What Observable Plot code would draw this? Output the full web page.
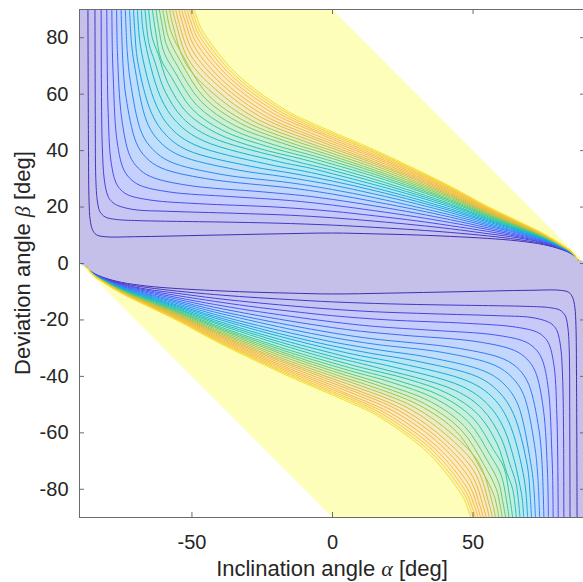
<!DOCTYPE html>
<html>
<head>
<meta charset="utf-8">
<script src="https://cdn.jsdelivr.net/npm/d3@7"></script>
<script src="https://cdn.jsdelivr.net/npm/@observablehq/plot@0.6"></script>
<style>
html, body { margin: 0; padding: 0; background: #fff; overflow: hidden; }
svg { max-width: none !important; }
</style>
</head>
<body>
<div id="chart"></div>
<script>
// ---------------- data ----------------
const axisRange = [-90, 90];
const xTicks = [-50, 0, 50];
const yTicks = [-80, -60, -40, -20, 0, 20, 40, 60, 80];

// upper family of contour lines (index 0 = innermost/blue, 28 = outermost/yellow)
// alpha where each line leaves the top edge (beta = 90)
const topAlpha = [-87.0,-84.5,-82.3,-80.3,-78.5,-76.8,-75.2,-73.7,-72.2,-70.8,-69.4,-68.0,-66.7,-65.4,-64.1,-62.8,-61.6,-60.4,-59.2,-58.0,-56.9,-55.8,-54.7,-53.7,-52.7,-51.8,-50.9,-50.1,-49.3];
// beta where each line crosses alpha = 0
const betaAtZero = [10.8,13.6,16.2,18.5,20.7,22.7,24.6,26.2,27.8,29.2,30.5,31.8,33.0,34.1,35.2,36.2,37.2,38.1,39.0,39.9,40.8,41.6,42.4,43.2,44.0,44.7,45.4,46.0,46.6];
// points [alpha, beta] along the bend of each line, between the top edge and alpha = 0
const leftPoints = [
  [[-86.8,40],[-86.6,22],[-86.2,15.5],[-85.4,12],[-84,10.2],[-81,9.5],[-70,9.5],[-45,10],[-20,10.5]],
  [[-84.4,56.3],[-84.2,30.2],[-83.7,22.5],[-82.9,18.7],[-82.0,17.4],[-80.7,16.4],[-76.9,15.6],[-69.2,15.2],[-40,14.7],[-20,14.3]],
  [[-82.2,61.9],[-81.9,41.8],[-81.2,29.9],[-79.9,23.9],[-78.5,21.9],[-76.5,20.6],[-70.6,19.1],[-58.6,18.5],[-35,17.8],[-15,17.1]],
  [[-80.1,67.5],[-79.8,53.5],[-78.9,37.0],[-77.1,28.8],[-75.2,26.0],[-72.5,24.2],[-64.2,22.4],[-47.7,21.2],[-20,20.0]],
  [[-78.3,75],[-78.0,66.2],[-76.8,44.6],[-74.5,33.8],[-72.1,30.2],[-68.5,27.7],[-57.7,25.3],[-36.1,23.7],[-15,22.3]],
  [[-76.5,74.7],[-75.0,51.5],[-72.1,38.2],[-69.1,33.8],[-64.7,30.8],[-51.5,27.7],[-25.0,25.4],[-10,24.0]],
  [[-74.5,70],[-73.4,58.6],[-69.8,42.8],[-66.3,37.5],[-61.0,33.9],[-45.2,30.1],[-13.6,26.6]],
  [[-73.0,75],[-71.9,64.5],[-67.9,46.3],[-63.8,40.3],[-57.8,36.1],[-39.7,31.6],[-15,28.6]],
  [[-71.5,78],[-70.5,70.6],[-66.0,50.1],[-61.4,43.1],[-54.6,38.4],[-34.0,33.2],[-17,30.7]],
  [[-70.3,82],[-69.3,71.6],[-64.3,53.1],[-59.2,45.5],[-51.7,40.2],[-28.9,34.4],[-14,31.9]],
  [[-68.2,76.4],[-62.7,56.1],[-57.2,47.7],[-48.9,42.0],[-24.1,35.4],[-10,32.7]],
  [[-67.2,81.4],[-61.2,59.0],[-55.2,49.9],[-46.2,43.6],[-19.2,36.1],[-8,33.8]],
  [[-65.3,78],[-63.1,71.2],[-59.8,61.5],[-53.4,51.7],[-43.7,45.0],[-14.7,36.6]],
  [[-64.1,80],[-62.0,74.2],[-58.5,63.8],[-51.7,53.4],[-41.3,46.2],[-26.9,41.0],[-10.4,36.9]],
  [[-62.9,82],[-61.0,72.4],[-57.3,66.0],[-50.0,54.8],[-39.0,47.1],[-23.6,41.6],[-6.0,36.9]],
  [[-61.9,84],[-60.0,75.0],[-56.1,67.9],[-48.4,56.2],[-36.8,48.0],[-20.6,42.0],[-8,38.5]],
  [[-60.5,84],[-59.1,77.6],[-55.1,69.9],[-46.9,57.6],[-34.8,48.9],[-17.7,42.6],[-7,39.3]],
  [[-59.7,86],[-58.3,80.0],[-54.1,71.7],[-45.6,58.8],[-32.8,49.7],[-15.0,42.8],[-6,40.0]],
  [[-57.5,82.3],[-53.1,73.4],[-44.2,59.7],[-30.8,50.2],[-12.2,43.0],[-5,40.7]],
  [[-56.8,84.6],[-52.1,70.7],[-42.9,60.7],[-28.9,50.8],[-9.4,43.1]],
  [[-55.9,86],[-51.3,72.4],[-41.7,61.8],[-27.2,51.4],[-6.8,43.2]],
  [[-54.8,86],[-50.5,73.9],[-40.5,62.8],[-25.5,51.9],[-4.4,43.3]],
  [[-53.6,86],[-49.8,75.4],[-39.4,63.5],[-23.8,52.2],[-8.2,45.5]],
  [[-52.5,86],[-49.1,76.8],[-38.4,64.2],[-22.2,52.6],[-6.1,45.6]],
  [[-51.5,86],[-48.5,78.3],[-37.4,65.1],[-20.7,53.0],[-4.0,45.7]],
  [[-50.5,86],[-47.9,79.6],[-36.5,65.7],[-19.3,53.3],[-8,48.0]],
  [[-49.5,86],[-47.4,80.8],[-35.7,66.3],[-18.0,53.5],[-8,48.7]],
  [[-48.7,86],[-46.9,81.8],[-34.9,66.8],[-16.8,53.7],[-8,49.4]],
  [[-47.8,86],[-46.5,82.9],[-34.2,67.3],[-15.7,53.8],[-8,50.1]]
];
// beta of each line at these alpha stations on the right-hand side
const rightStations = [15, 30, 42, 55, 66, 75, 81, 85];
const rightBeta = [
  [10.5,10.1,9.6,8.9,8.0,6.7,5.1,3.4],
  [12.8,11.9,11.0,9.8,8.5,7.0,5.3,3.5],
  [15.0,13.6,12.3,10.6,9.1,7.3,5.4,3.5],
  [16.9,15.1,13.4,11.4,9.5,7.5,5.5,3.6],
  [18.7,16.5,14.5,12.1,9.9,7.8,5.6,3.6],
  [20.4,17.8,15.5,12.7,10.3,8.0,5.7,3.7],
  [21.9,19.0,16.4,13.3,10.7,8.2,5.8,3.7],
  [23.3,20.0,17.2,13.8,11.0,8.4,5.9,3.7],
  [24.6,21.1,18.0,14.3,11.3,8.6,6.0,3.8],
  [25.8,22.0,18.7,14.8,11.6,8.7,6.1,3.8],
  [26.8,22.8,19.3,15.2,11.9,8.9,6.2,3.8],
  [27.9,23.7,20.0,15.6,12.1,9.0,6.2,3.9],
  [28.9,24.4,20.6,16.0,12.3,9.1,6.3,3.9],
  [29.8,25.1,21.1,16.3,12.6,9.2,6.3,3.9],
  [30.8,25.9,21.7,16.7,12.8,9.4,6.4,4.0],
  [31.6,26.5,22.2,17.0,13.0,9.5,6.5,4.0],
  [32.4,27.1,22.6,17.3,13.2,9.6,6.5,4.0],
  [33.1,27.7,23.1,17.6,13.3,9.7,6.5,4.0],
  [33.9,28.3,23.6,17.9,13.5,9.8,6.6,4.0],
  [34.7,28.9,24.0,18.2,13.7,9.9,6.6,4.1],
  [35.4,29.5,24.4,18.5,13.9,10.0,6.7,4.1],
  [36.0,30.0,24.8,18.7,14.0,10.1,6.7,4.1],
  [36.7,30.5,25.2,19.0,14.2,10.1,6.8,4.1],
  [37.4,31.0,25.6,19.2,14.3,10.2,6.8,4.1],
  [38.0,31.5,26.0,19.5,14.5,10.3,6.9,4.1],
  [38.6,32.0,26.4,19.7,14.6,10.4,6.9,4.2],
  [39.2,32.4,26.7,19.9,14.8,10.5,6.9,4.2],
  [39.7,32.8,27.0,20.1,14.9,10.5,7.0,4.2],
  [40.2,33.2,27.3,20.3,15.0,10.6,7.0,4.2]
];
// point where all upper lines meet (lower lines meet at its mirror image)
const convergence = [87.3, 1.3];
// corners of the defined region |alpha + beta| <= 90
const domainCorners = [[-90, 90], [0, 90], [90, 0], [90, -90], [0, -90], [-90, 0]];

// ---------------- colours (parula-like) ----------------
const lineStops = ["#3f2eb5","#4852f4","#2e87f7","#12b1d6","#37c897","#92c84e","#e6b93a","#f8bb3b","#f4e02e"];
const lineColor = d3.piecewise(d3.interpolateRgb, lineStops);
const regionYellow = "#f9fb15";
const tint = c => d3.interpolateRgb("#ffffff", c)(0.3);

// ---------------- build series ----------------
const [lo, hi] = axisRange;
const N = topAlpha.length;
const upperLines = topAlpha.map((t, i) => [
  [t, hi],
  ...leftPoints[i],
  [0, betaAtZero[i]],
  ...rightStations.map((a, j) => [a, rightBeta[i][j]]),
  convergence
]);
// the lower family is the point-mirror image of the upper one in the picture
const lowerLines = upperLines.map(line => line.map(([a, b]) => [-a, -b]));

const hexRows = domainCorners.map(([a, b]) => ({a, b}));

const fillRows = [];
for (let k = N - 1; k >= 0; k--) {
  const poly = [[lo, hi], ...upperLines[k], [hi, 0], [hi, lo], ...lowerLines[k], [lo, 0]];
  const c = tint(lineColor(k / N));
  poly.forEach(([a, b]) => fillRows.push({id: "f" + k, a, b, c}));
}

const lineRows = [];
upperLines.forEach((pts, i) => pts.forEach(([a, b]) => lineRows.push({id: "u" + i, a, b, c: lineColor(i / (N - 1))})));
lowerLines.forEach((pts, i) => pts.forEach(([a, b]) => lineRows.push({id: "l" + i, a, b, c: lineColor(i / (N - 1))})));

// ---------------- plot ----------------
const W = 590, H = 582, ML = 79, MR = 5, MT = 9, MB = 65;
const frameW = W - ML - MR, frameH = H - MT - MB, tickLen = 5;
const axisColor = "#6b6b6b";

const plot = Plot.plot({
  width: W, height: H,
  marginLeft: ML, marginRight: MR, marginTop: MT, marginBottom: MB,
  x: {domain: axisRange, label: null},
  y: {domain: axisRange, label: null},
  color: {type: "identity"},
  style: {fontFamily: "'Liberation Sans', Arial, sans-serif", fontSize: "20px", color: "#262626", background: "#fff", maxWidth: "none"},
  marks: [
    Plot.line(hexRows, {x: "a", y: "b", fill: tint(regionYellow), stroke: "none", curve: "linear"}),
    Plot.line(fillRows, {x: "a", y: "b", z: "id", fill: "c", stroke: "none", curve: "catmull-rom", clip: true}),
    Plot.line(lineRows, {x: "a", y: "b", z: "id", stroke: "c", strokeWidth: 1, curve: "catmull-rom", clip: true}),
    Plot.frame({stroke: axisColor, strokeWidth: 1}),
    Plot.tickX(xTicks, {x: d => d, insetTop: frameH - tickLen, stroke: axisColor}),
    Plot.tickX(xTicks, {x: d => d, insetBottom: frameH - tickLen, stroke: axisColor}),
    Plot.tickY(yTicks, {y: d => d, insetRight: frameW - tickLen, stroke: axisColor}),
    Plot.tickY(yTicks, {y: d => d, insetLeft: frameW - tickLen, stroke: axisColor}),
    Plot.axisX({ticks: xTicks, tickSize: 0, tickPadding: 17, tickFormat: d => String(d), label: null, fontSize: 20}),
    Plot.axisY({ticks: yTicks, tickSize: 0, tickPadding: 11, tickFormat: d => String(d), label: null, fontSize: 20})
  ]
});

// axis titles with Greek symbols
const svg = d3.select(plot);
const greek = "'Liberation Serif', 'DejaVu Serif', serif";
const xl = svg.append("text")
  .attr("x", ML + frameW / 2).attr("y", 576)
  .attr("text-anchor", "middle").attr("fill", "#262626")
  .style("font-size", "22px").style("font-family", "'Liberation Sans', Arial, sans-serif");
xl.append("tspan").text("Inclination angle ");
xl.append("tspan").style("font-family", greek).style("font-style", "italic").text("α");
xl.append("tspan").text(" [deg]");

const yl = svg.append("text")
  .attr("transform", `translate(30,${MT + frameH / 2}) rotate(-90)`)
  .attr("text-anchor", "middle").attr("fill", "#262626")
  .style("font-size", "22px").style("font-family", "'Liberation Sans', Arial, sans-serif");
yl.append("tspan").text("Deviation angle ");
yl.append("tspan").style("font-family", greek).style("font-style", "italic").text("β");
yl.append("tspan").text(" [deg]");

document.getElementById("chart").appendChild(plot);
</script>
</body>
</html>
